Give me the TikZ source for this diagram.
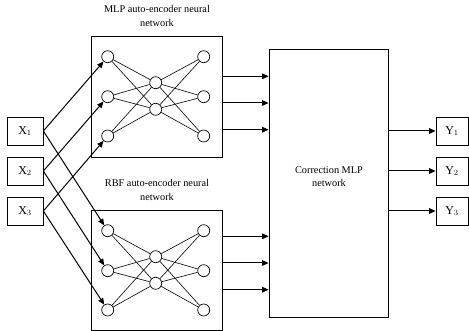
\documentclass[tikz,border=0pt]{standalone}
\usepackage{fontspec}
\setmainfont{Liberation Serif}
\usetikzlibrary{arrows.meta}
\begin{document}
\begin{tikzpicture}[x=1pt,y=-1pt,
  iobox/.style={draw,line width=0.7pt,minimum height=28pt,inner sep=0pt,font=\fontsize{12}{14}\selectfont},
  netbox/.style={draw,line width=0.7pt,inner sep=0pt},
  neuron/.style={circle,draw,line width=0.7pt,fill=white,minimum size=12pt,inner sep=0pt},
  caption/.style={align=center,inner sep=0pt,font=\fontsize{10.3}{13.4}\selectfont},
  link/.style={line width=0.6pt},
  arr/.style={line width=1pt,-{Triangle[length=6.5pt,width=5.5pt]}}]
\useasboundingbox (0,0) rectangle (469,331);

% input and output boxes
\foreach \i/\y in {1/131,2/171,3/211}{
  \node[iobox,minimum width=36pt] (x\i) at (25,\y) {X$_{\i}$};
  \node[iobox,minimum width=32pt] (y\i) at (452,\y) {Y$_{\i}$};
}

% auto-encoder frames and correction network
\node[netbox,minimum width=131pt,minimum height=121pt] (mlp) at (156.5,96.5) {};
\node[netbox,minimum width=131pt,minimum height=120pt] (rbf) at (156.5,270) {};
\node[netbox,minimum width=119pt,minimum height=268pt] (corr) at (328.5,183) {};

\node[caption] (mlpcap) at (157,16) {MLP auto-encoder neural\\network};
\node[caption] (rbfcap) at (157,190) {RBF auto-encoder neural\\network};
\node[caption] (corrcap) at (329,176.5) {Correction MLP\\network};

% neurons of the two auto-encoders
\foreach \n/\dy in {m/0,r/174}{
  \node[neuron] (\n a1) at (107.7,56.7+\dy) {};
  \node[neuron] (\n a2) at (107.7,96.7+\dy) {};
  \node[neuron] (\n a3) at (107.7,136+\dy) {};
  \node[neuron] (\n b1) at (155.7,82.7+\dy) {};
  \node[neuron] (\n b2) at (155.7,109.3+\dy) {};
  \node[neuron] (\n c1) at (203.7,56.7+\dy) {};
  \node[neuron] (\n c2) at (203.7,96.7+\dy) {};
  \node[neuron] (\n c3) at (203.7,136+\dy) {};
  \foreach \i in {1,2,3}{
    \foreach \j in {1,2}{
      \draw[link] (\n a\i) -- (\n b\j);
      \draw[link] (\n b\j) -- (\n c\i);
    }
  }
}

% inputs feed both auto-encoders
\foreach \i in {1,2,3}{
  \draw[arr] (x\i.east) -- (ma\i);
  \draw[arr] (x\i.east) -- (ra\i);
}

% auto-encoder outputs into the correction network
\foreach \y in {76.3,103,129.7}{
  \draw[arr] (mlp.east |- 0,\y) -- (corr.west |- 0,\y);
}
\foreach \y in {236.3,263,289.7}{
  \draw[arr] (rbf.east |- 0,\y) -- (corr.west |- 0,\y);
}

% corrected outputs
\foreach \i in {1,2,3}{
  \draw[arr] (corr.east |- y\i.west) -- (y\i.west);
}
\end{tikzpicture}
\end{document}
